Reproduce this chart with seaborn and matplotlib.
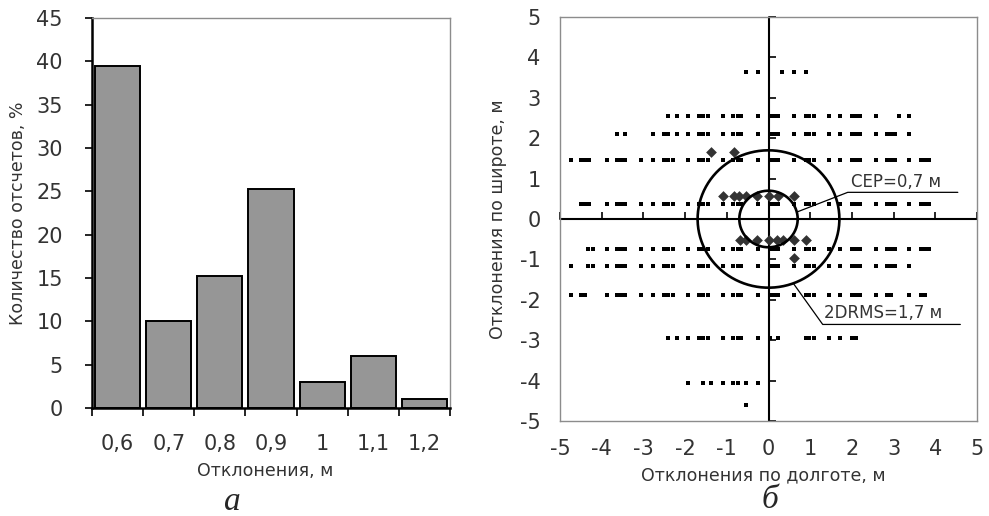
import numpy as np
import pandas as pd
import matplotlib
matplotlib.use("Agg")
import matplotlib.pyplot as plt
import seaborn as sns

sns.set_theme(style="white")
plt.rcParams['font.family'] = ['DejaVu Sans']

# ---------------- data: histogram (a) ----------------
bins = ["0,6", "0,7", "0,8", "0,9", "1", "1,1", "1,2"]
share = [39.5, 10.0, 15.2, 25.3, 3.0, 6.0, 1.0]

# ---------------- data: scatter (б) ----------------
row_y = [3.65, 2.56, 2.11, 1.45, 0.36, -0.74, -1.17, -1.87, -2.95, -4.05, -4.60]
row_365 = [-0.54, -0.26, 0.33, 0.60, 0.89]
row_256 = [-2.40, -2.20, -1.94, -1.66, -1.56, -1.46, -1.10, -0.84, -0.74, -0.65, -0.26,
           0.04, 0.14, 0.23, 0.60, 0.89, 0.98, 1.08, 1.45, 1.72, 2.01, 2.10, 2.20,
           2.57, 3.12, 3.38]
row_211 = [-3.64, -3.45, -2.76, -2.50, -2.40, -2.20, -1.94, -1.66, -1.56, -1.46, -1.10,
           -0.84, -0.74, -0.65, -0.26, 0.04, 0.14, 0.23, 0.60, 0.89, 0.98, 1.08, 1.45,
           1.72, 2.01, 2.10, 2.20, 2.57, 2.84, 2.94, 3.03, 3.38]
row_145 = [-4.74, -4.50, -4.40, -4.30, -3.87, -3.64, -3.54, -3.45, -3.06, -2.76, -2.50,
           -2.40, -2.30, -1.94, -1.66, -1.56, -1.46, -1.10, -0.84, -0.74, -0.65, -0.26,
           0.04, 0.14, 0.23, 0.60, 0.89, 0.98, 1.08, 1.45, 1.72, 2.01, 2.10, 2.20, 2.57,
           2.84, 2.94, 3.03, 3.38, 3.66, 3.76, 3.86]
row_036 = [-4.50, -4.40, -4.30, -3.87, -3.64, -3.54, -3.45, -3.06, -2.76, -2.50, -2.40,
           -2.30, -1.94, -1.66, -1.56, -1.46, -1.10, -0.84, -0.74, -0.65, -0.26, 0.04,
           0.14, 0.23, 0.60, 0.89, 0.98, 1.08, 1.45, 1.72, 2.01, 2.10, 2.20, 2.57, 2.84,
           2.94, 3.03, 3.38, 3.66, 3.76, 3.86]
row_m074 = [-4.34, -4.22, -3.87, -3.64, -3.54, -3.45, -3.06, -2.76, -2.50, -2.40, -2.30,
            -1.94, -1.66, -1.56, -1.46, -1.10, -0.84, -0.74, -0.65, -0.26, 0.04, 0.14,
            0.23, 0.60, 0.89, 0.98, 1.08, 1.45, 1.72, 2.01, 2.10, 2.20, 2.57, 2.84, 2.94,
            3.03, 3.38, 3.66, 3.76, 3.86]
row_m117 = [-4.74, -4.34, -4.22, -3.87, -3.64, -3.54, -3.45, -3.06, -2.76, -2.50, -2.40,
            -2.30, -1.94, -1.66, -1.56, -1.46, -1.10, -0.84, -0.74, -0.65, -0.26, 0.04,
            0.14, 0.23, 0.60, 0.89, 0.98, 1.08, 1.45, 1.72, 2.01, 2.10, 2.20, 2.57, 2.84,
            2.94, 3.03, 3.38]
row_m187 = [-4.74, -4.50, -4.40, -3.87, -3.64, -3.54, -3.45, -3.06, -2.76, -2.50, -2.40,
            -2.30, -1.94, -1.66, -1.56, -1.46, -1.10, -0.84, -0.74, -0.65, -0.26, 0.04,
            0.14, 0.23, 0.60, 0.89, 0.98, 1.08, 1.45, 1.72, 2.01, 2.10, 2.20, 2.57, 2.84,
            2.94, 3.38, 3.66, 3.76]
row_m295 = [-2.40, -2.20, -1.94, -1.66, -1.56, -1.46, -1.10, -0.84, -0.74, -0.65, -0.26,
            0.04, 0.23, 0.89, 0.98, 1.08, 1.45, 1.72, 2.01, 2.10]
row_m405 = [-1.94, -1.56, -1.37, -1.10, -0.84, -0.72, -0.54, -0.26]
row_m460 = [-0.54]
rows_x = [row_365, row_256, row_211, row_145, row_036, row_m074, row_m117,
          row_m187, row_m295, row_m405, row_m460]

# highlighted points (diamonds)
dia_x = [-1.37, -0.83, -1.10, -0.83, -0.70, -0.53, -0.27, 0.01, 0.22, 0.60,
         -0.68, -0.53, -0.27, 0.02, 0.21, 0.34, 0.60, 0.89, 0.60]
dia_y = [1.67, 1.67, 0.56, 0.56, 0.56, 0.56, 0.56, 0.56, 0.56, 0.56,
         -0.51, -0.51, -0.51, -0.51, -0.51, -0.51, -0.51, -0.51, -0.96]

radii = [0.7, 1.7]
radius_labels = ["CEP=0,7 м", "2DRMS=1,7 м"]
axis_ticks = [-5, -4, -3, -2, -1, 0, 1, 2, 3, 4, 5]

# ---------------- figure ----------------
W, H = 989, 516
fig = plt.figure(figsize=(W / 100, H / 100), dpi=100)
fig.patch.set_facecolor("white")

def rect(l, t, r, b):
    return [l / W, 1 - b / H, (r - l) / W, (b - t) / H]

TICK_FS = 15
LAB_FS = 12.5
TXT = "#333333"

# ---- (a) histogram ----
ax1 = fig.add_axes(rect(92, 18, 450, 408))
df1 = pd.DataFrame({"bin": bins, "share": share})
sns.barplot(data=df1, x="bin", y="share", order=bins, color="#969696",
            saturation=1, width=0.88, edgecolor="black", linewidth=1.4, ax=ax1)
ax1.set_xlim(-0.5, len(bins) - 0.5)
ax1.set_ylim(0, 45)
ax1.set_yticks(np.arange(0, 46, 5))
ax1.set_xticks(np.arange(len(bins)))
ax1.set_xticklabels(bins)
ax1.set_xticks(np.arange(len(bins) + 1) - 0.5, minor=True)
ax1.tick_params(axis="x", which="major", length=0, pad=19, labelsize=TICK_FS, colors=TXT)
ax1.tick_params(axis="x", which="minor", length=6, width=1.2, color="black", direction="out", bottom=True)
ax1.tick_params(axis="y", length=5, width=1.2, color="black", direction="out", left=True,
                pad=16, labelsize=TICK_FS, colors=TXT)
for s in ["top", "right"]:
    ax1.spines[s].set_color("#8c8c8c")
    ax1.spines[s].set_linewidth(1.0)
for s in ["left", "bottom"]:
    ax1.spines[s].set_color("black")
    ax1.spines[s].set_linewidth(1.8)
ax1.set_xlabel("Отклонения, м", fontsize=LAB_FS, color=TXT)
ax1.set_ylabel("Количество отсчетов, %", fontsize=LAB_FS, color=TXT)
ax1.xaxis.set_label_coords((265 - 92) / 358, (408 - 471) / 390)
ax1.xaxis.label.set_va("center")
ax1.yaxis.set_label_coords((18 - 92) / 358, 0.5)
ax1.yaxis.label.set_va("center")

# ---- (б) scatter ----
ax2 = fig.add_axes(rect(560, 17, 977, 421))
pts = pd.DataFrame({
    "x": [x for xs in rows_x for x in xs],
    "y": [y for y, xs in zip(row_y, rows_x) for _ in xs],
})
sns.scatterplot(data=pts, x="x", y="y", marker="s", s=6, color="black",
                linewidth=0, ax=ax2, zorder=3)
dia = pd.DataFrame({"x": dia_x, "y": dia_y})
sns.scatterplot(data=dia, x="x", y="y", marker="D", s=30, color="#333333",
                linewidth=0, ax=ax2, zorder=4)
theta = np.linspace(0, 2 * np.pi, 200)
for r in radii:
    ax2.plot(r * np.cos(theta), r * np.sin(theta), color="black", lw=1.9, zorder=5)

ax2.set_xlim(-5, 5)
ax2.set_ylim(-5, 5)
ax2.set_xticks(axis_ticks)
ax2.set_yticks(axis_ticks)
ax2.set_xticklabels([str(t) for t in axis_ticks])
ax2.set_yticklabels([str(t) for t in axis_ticks])
ax2.tick_params(axis="x", length=0, pad=13, labelsize=TICK_FS, colors=TXT)
ax2.tick_params(axis="y", length=0, pad=14, labelsize=TICK_FS, colors=TXT)
for s in ax2.spines.values():
    s.set_color("#8c8c8c")
    s.set_linewidth(1.0)

# crossing axes at zero with tick marks
ax2.axhline(0, color="black", lw=1.5, zorder=2)
ax2.axvline(0, color="black", lw=1.5, zorder=2)
sx = ax2.secondary_xaxis(0.5)
sx.set_xticks(axis_ticks)
sx.set_xticklabels([])
sx.tick_params(length=5, width=1.2, direction="out", color="black")
sx.spines["bottom"].set_visible(False)
sy = ax2.secondary_yaxis(0.5)
sy.set_yticks(axis_ticks)
sy.set_yticklabels([])
sy.tick_params(length=5, width=1.2, direction="out", color="black")
sy.spines["left"].set_visible(False)

ax2.set_xlabel("Отклонения по долготе, м", fontsize=LAB_FS, color=TXT)
ax2.set_ylabel("Отклонения по широте, м", fontsize=LAB_FS, color=TXT)
ax2.xaxis.set_label_coords((763 - 560) / 417, (421 - 475) / 404)
ax2.xaxis.label.set_va("center")
ax2.yaxis.set_label_coords((498 - 560) / 417, 0.5)
ax2.yaxis.label.set_va("center")

# annotations
ax2.plot([0.70, 1.90, 4.54], [0.18, 0.66, 0.66], color="black", lw=0.9, zorder=6)
ax2.text(1.98, 0.80, radius_labels[0], fontsize=12, color=TXT, va="baseline", ha="left")
ax2.plot([0.60, 1.30, 4.60], [-1.60, -2.61, -2.61], color="black", lw=0.9, zorder=6)
ax2.text(1.33, -2.45, radius_labels[1], fontsize=12, color=TXT, va="baseline", ha="left")

# panel letters
fig.text(232 / W, 1 - 502 / H, "а", fontsize=24, style="italic", family="Liberation Serif",
         ha="center", va="center")
fig.text(770 / W, 1 - 500 / H, "б", fontsize=24, style="italic", family="Liberation Serif",
         ha="center", va="center")

fig.savefig("out.png", dpi=100, facecolor="white")
